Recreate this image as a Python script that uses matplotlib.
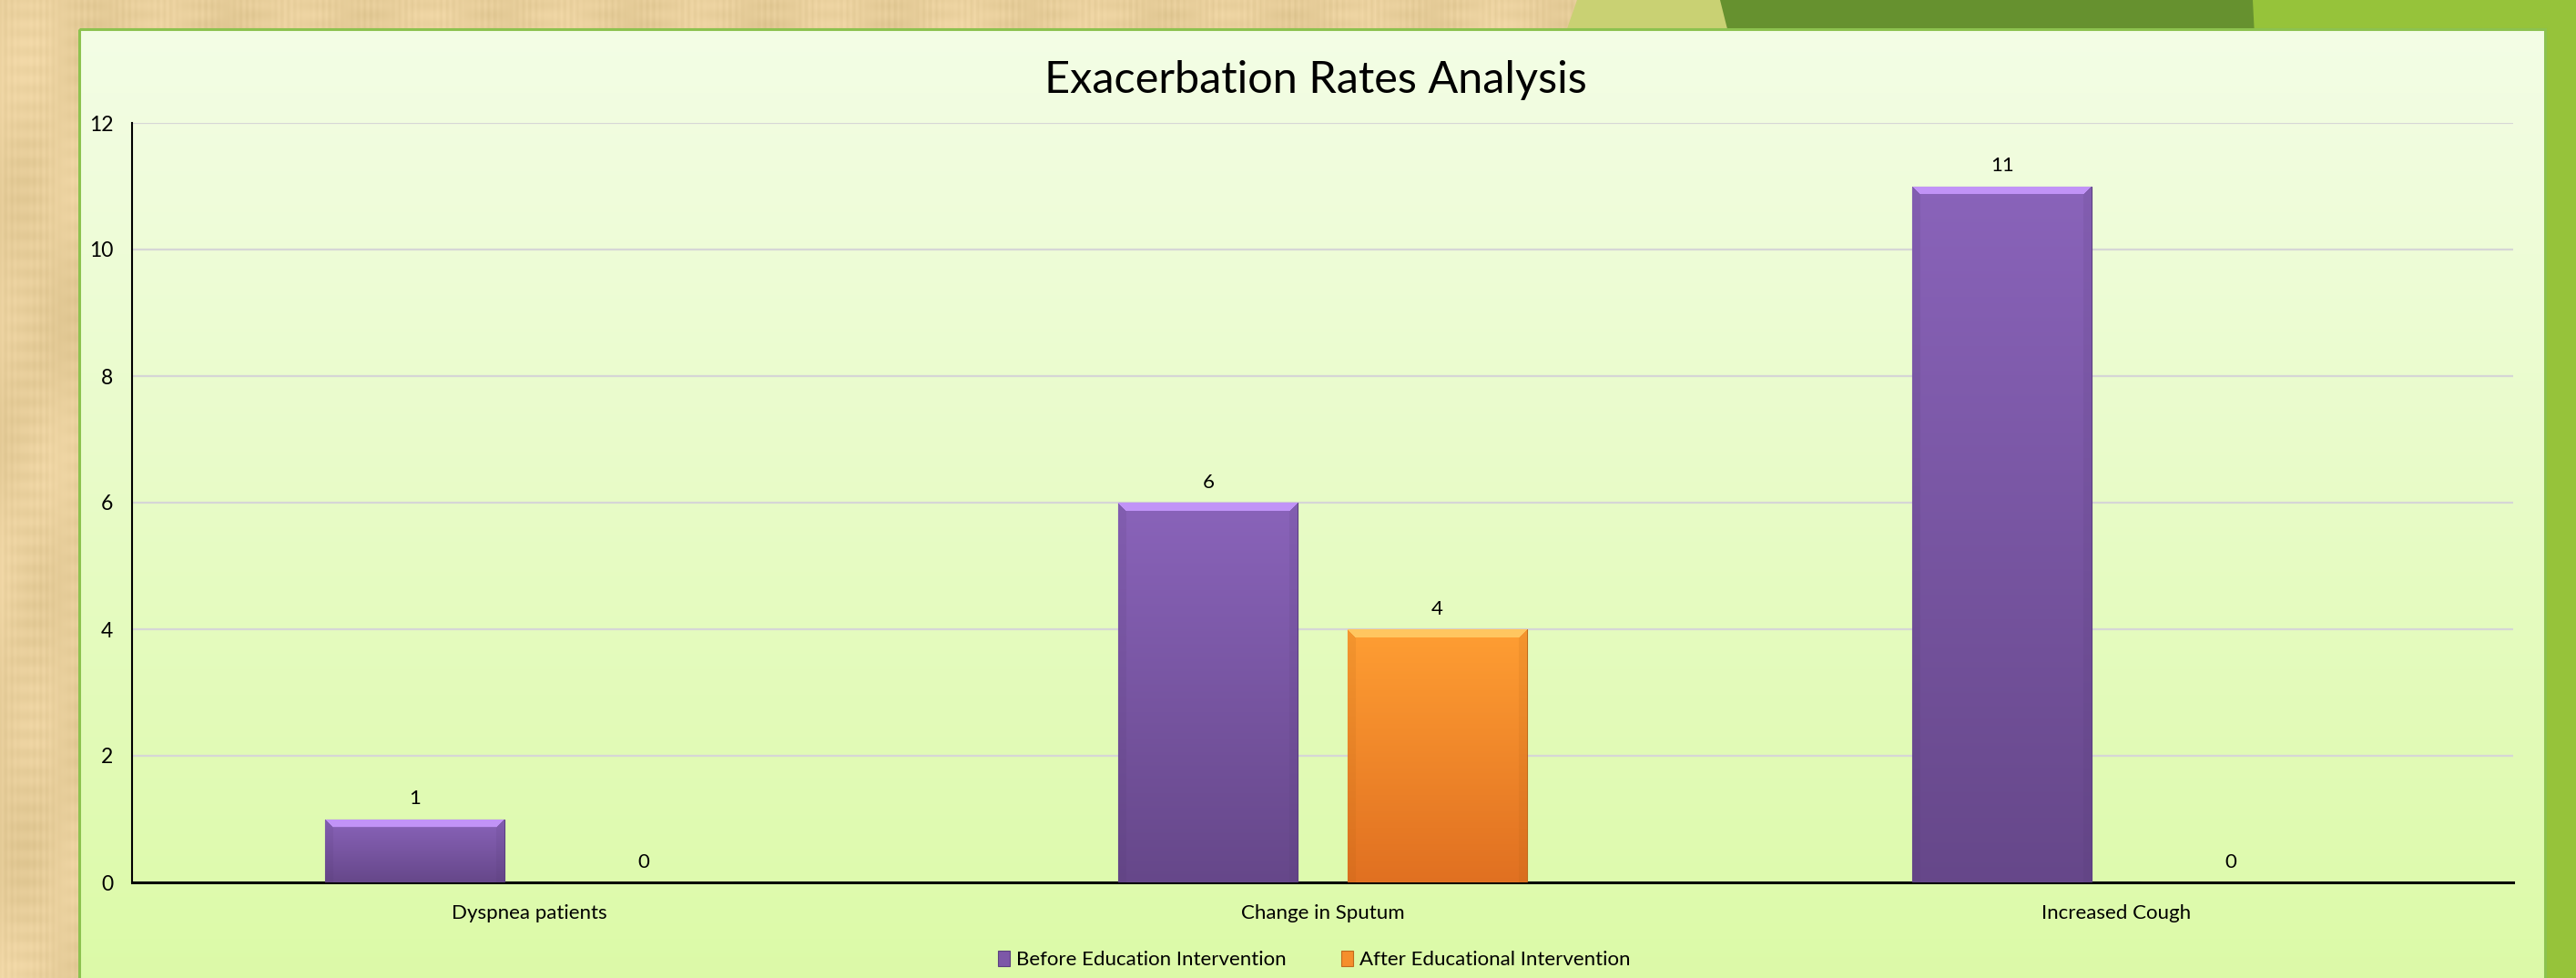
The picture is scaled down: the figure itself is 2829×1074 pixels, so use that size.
import numpy as np
import matplotlib.pyplot as plt
from matplotlib.patches import Rectangle, Polygon

# chart data
categories = ['Dyspnea patients', 'Change in Sputum', 'Increased Cough']
before = [1, 6, 11]
after = [0, 4, 0]
series_names = ['Before Education Intervention', 'After Educational Intervention']
chart_title = 'Exacerbation Rates Analysis'
yticks = [0, 2, 4, 6, 8, 10, 12]

W, H = 2829, 1074
plt.rcParams['font.family'] = ['Lato', 'DejaVu Sans']

fig = plt.figure(figsize=(W / 100, H / 100), dpi=100)

# --- slide background (pixel coordinates) ---
bg = fig.add_axes([0, 0, 1, 1], zorder=-10)
bg.set_xlim(0, W)
bg.set_ylim(H, 0)
bg.axis('off')

# papyrus-like texture, made from a few sine waves
yy, xx = np.mgrid[0:H:2, 0:W:2]
fib = (0.018 * np.sin(xx * 0.9) * np.sin(xx * 0.071 + 1.3)
       + 0.022 * np.sin(xx * 0.043 + yy * 0.004) * np.sin(yy * 0.021 + 0.5)
       + 0.012 * np.sin(yy * 0.31) * np.sin(xx * 0.05)
       + 0.015 * np.sin(xx * 0.011 + 2.0) * np.sin(yy * 0.013))
base = np.array([0.91, 0.81, 0.61])
parch = np.clip(base[None, None, :] + fib[..., None] * np.array([1.0, 1.0, 1.2]), 0, 1)
bg.imshow(parch, extent=(0, W, H, 0), aspect='auto', interpolation='bilinear')

# green shapes top right
bg.add_patch(Polygon([(1732, 0), (1895, 0), (1897, 40), (1718, 40)],
                     closed=True, color=(0.79, 0.82, 0.45), lw=0))
bg.add_patch(Rectangle((2472, 0), W - 2472, H, color='#96c33a', lw=0))
bg.add_patch(Polygon([(1889, 0), (2474, 0), (2476, 40), (1899, 40)],
                     closed=True, color='#66912f', lw=0))

# chart panel with vertical gradient
px0, px1, py0 = 87, 2795, 32
grad = np.linspace(0, 1, 256)[:, None, None]
top_c = np.array([0.955, 0.993, 0.900])
bot_c = np.array([0.862, 0.980, 0.655])
panel_img = top_c + (bot_c - top_c) * grad
panel_img = np.repeat(panel_img, 2, axis=1)
frame = Rectangle((px0, py0), px1 - px0, H - py0 + 10, facecolor='none',
                  edgecolor='#8cc24f', lw=2.2, zorder=3)
bg.add_patch(frame)
im = bg.imshow(panel_img, extent=(px0, px1, H + 10, py0), aspect='auto', zorder=2)
im.set_clip_path(frame)
bg.set_xlim(0, W)
bg.set_ylim(H, 0)

# --- main axes ---
ax = fig.add_axes([145 / W, (H - 969) / H, (2760 - 145) / W, (969 - 135) / H])
ax.patch.set_alpha(0)

x = np.arange(len(categories))
off, bw = 0.144, 0.226
b1 = ax.bar(x - off, before, bw, color='#7d58a8', edgecolor='#5b4080', lw=0.8, zorder=3)
b2 = ax.bar(x + off, after, bw, color='#f58f2c', edgecolor='#c06a1c', lw=0.8, zorder=3)

ax.set_xlim(-0.5, 2.5)
ax.set_ylim(0, 12)
px_per_x = (2760 - 145) / 3.0
px_per_y = (969 - 135) / 12.0


def shaded(top, bottom, light, dark, wpx, hpx, bevel=9):
    rows, cols = max(int(hpx), 2), max(int(wpx), 2)
    t = np.linspace(0, 1, rows)[:, None, None]
    img = np.array(top) + (np.array(bottom) - np.array(top)) * t
    img = np.repeat(img, cols, axis=1)
    ii, jj = np.mgrid[0:rows, 0:cols]
    side = (jj < bevel) & (ii >= jj) | (jj >= cols - bevel) & (ii >= cols - 1 - jj)
    img[side] = img[side] * 0.88 + np.array(dark) * 0.12
    hl = (ii < bevel) & (jj >= ii) & (jj < cols - ii)
    img[hl] = np.array(light)
    return np.clip(img, 0, 1)


colours = [((0.54, 0.39, 0.73), (0.40, 0.28, 0.54), (0.76, 0.58, 0.97), (0.30, 0.20, 0.42)),
           ((1.00, 0.62, 0.20), (0.88, 0.44, 0.13), (1.00, 0.78, 0.38), (0.65, 0.35, 0.05))]
for bars, (ct, cb, cl, cd) in zip([b1, b2], colours):
    for bar in bars:
        h = bar.get_height()
        if h <= 0:
            continue
        x0 = bar.get_x()
        img = shaded(ct, cb, cl, cd, bar.get_width() * px_per_x, h * px_per_y)
        gi = ax.imshow(img, extent=(x0, x0 + bar.get_width(), 0, h), aspect='auto',
                       zorder=3.5, interpolation='bilinear')
        gi.set_clip_path(bar)

ax.set_xlim(-0.5, 2.5)
ax.set_ylim(0, 12)

# value labels
for bars, vals in zip([b1, b2], [before, after]):
    for bar, v in zip(bars, vals):
        ax.annotate(str(v), (bar.get_x() + bar.get_width() / 2, v), xytext=(0, 16),
                    textcoords='offset points', ha='center', va='center', fontsize=16)

ax.set_yticks(yticks)
ax.set_xticks(x, categories)
ax.tick_params(axis='y', length=0, pad=15, labelsize=16.5)
ax.tick_params(axis='x', length=0, pad=17, labelsize=16)
ax.yaxis.grid(True, color='#d6d6d6', lw=1.6)
ax.set_axisbelow(True)
for s in ['top', 'right']:
    ax.spines[s].set_visible(False)
ax.spines['left'].set_linewidth(1.5)
ax.spines['bottom'].set_linewidth(2.2)

fig.text(1445 / W, 1 - 102 / H, chart_title, ha='center', va='baseline', fontsize=35)

fig.legend(handles=[b1, b2], labels=series_names, loc='center',
           bbox_to_anchor=(1443 / W, 1 - 1054 / H), ncol=2, frameon=False,
           fontsize=16, handlelength=0.6, handleheight=0.8, handletextpad=0.3,
           columnspacing=2.7)

fig.savefig('out.png', dpi=100)
